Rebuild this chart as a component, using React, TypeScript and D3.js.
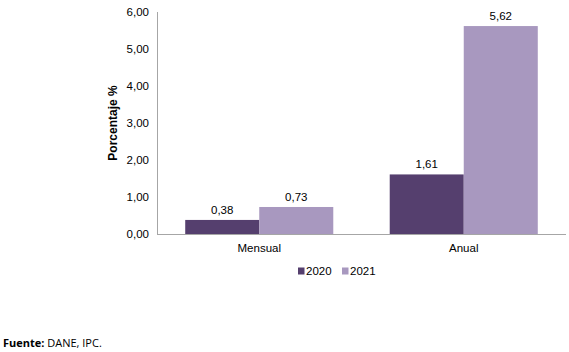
import React from "react";
import * as d3 from "d3";

const categories = ["Mensual", "Anual"];
const seriesNames = ["2020", "2021"];
const values2020 = [0.38, 1.61];
const values2021 = [0.73, 5.62];
const yTicks = [0, 1, 2, 3, 4, 5, 6];
const colors = ["#553F6E", "#A898BF"];

const fmt = (v: number) => v.toFixed(2).replace(".", ",");

export default function App() {
  const W = 569, H = 352;
  const left = 157, right = 566, top = 12, bottom = 234;
  const x = d3.scaleBand<string>().domain(categories).range([left, right]).paddingInner(0).paddingOuter(0);
  const y = d3.scaleLinear().domain([0, 6]).range([bottom, top]);
  const bw = x.bandwidth();
  const barW = bw * 0.362;
  const series = [values2020, values2021];
  const font = "Arial, 'Liberation Sans', sans-serif";
  return (
    <svg width={W} height={H} style={{ position: "absolute", left: 0, top: 0, background: "#fff" }}>
      <g fontFamily={font} fontSize={11.5} fill="#000">
        {yTicks.map((t) => (
          <text key={t} x={left - 8} y={y(t)} dy="0.35em" textAnchor="end">{fmt(t)}</text>
        ))}
        <line x1={left + 0.5} x2={left + 0.5} y1={top} y2={bottom} stroke="#A6A6A6" />
        {categories.map((c, i) => {
          const cx = x(c)! + bw / 2;
          return (
            <g key={c}>
              {series.map((s, j) => {
                const bx = cx - barW + j * barW;
                return (
                  <g key={j}>
                    <rect x={bx} y={y(s[i])} width={barW} height={bottom - y(s[i])} fill={colors[j]} />
                    <text x={bx + barW / 2} y={y(s[i]) - 6} textAnchor="middle">{fmt(s[i])}</text>
                  </g>
                );
              })}
              <text x={cx} y={bottom + 18} textAnchor="middle">{c}</text>
            </g>
          );
        })}
        <line x1={left} x2={right} y1={bottom + 0.5} y2={bottom + 0.5} stroke="#A6A6A6" />
        <text transform={`translate(117,${(top + bottom) / 2}) rotate(-90)`} textAnchor="middle" fontWeight="bold" fontSize={12}>Porcentaje %</text>
        {seriesNames.map((n, j) => (
          <g key={n} transform={`translate(${298 + j * 44},271)`}>
            <rect x={0} y={-3.5} width={6.5} height={7} fill={colors[j]} />
            <text x={8} y={0} dy="0.35em">{n}</text>
          </g>
        ))}
      </g>
      <text x={3} y={347} fontFamily="'Open Sans', 'Noto Sans', sans-serif" fontSize={11} fill="#000">
        <tspan fontWeight="bold">Fuente:</tspan> DANE, IPC.
      </text>
    </svg>
  );
}
